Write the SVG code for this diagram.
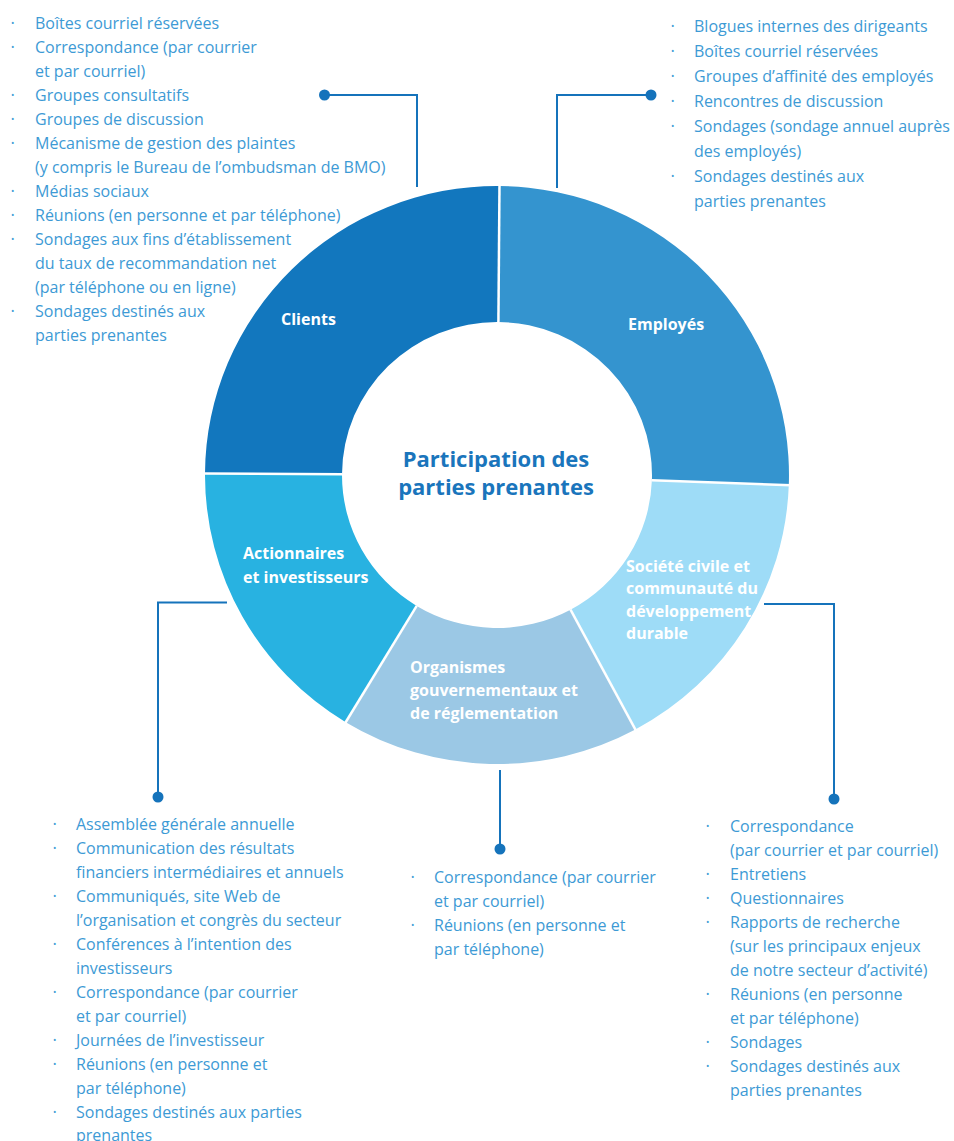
<svg xmlns="http://www.w3.org/2000/svg" width="954" height="1141" viewBox="0 0 954 1141">
  <style>
    .seg-label { font-family: "Open Sans", "Liberation Sans", sans-serif; font-weight: 700; font-size: 16px; fill: #ffffff; }
    .title { font-family: "Open Sans", "Liberation Sans", sans-serif; font-weight: 700; font-size: 22px; fill: #1a75bc; text-anchor: middle; }
    .item { font-family: "Open Sans", "Liberation Sans", sans-serif; font-size: 16px; fill: #3d9ad5; }
    .bullet { font-family: "Open Sans", "Liberation Sans", sans-serif; font-size: 9px; fill: #3d9ad5; }
    .sep { stroke: #ffffff; stroke-width: 2.5; }
    .link { fill: none; stroke: #1573bb; stroke-width: 2; }
    .dot { fill: #1573bb; }
  </style>
  <rect width="954" height="1141" fill="#ffffff"/>

  <!-- Ring segments: centre (497,475), outer radii 292/289, inner radii 155/153 -->
  <g id="clients">
    <path d="M205,473.5 A292,289 0 0 1 499.5,186 L498.4,322 A155,153 0 0 0 342,474.2 Z" fill="#1277be"/>
    <text class="seg-label" x="281" y="325">Clients</text>
    <g>
      <text class="bullet" x="11" y="26.3">•</text>
      <text class="bullet" x="11" y="50.3">•</text>
      <text class="bullet" x="11" y="98.2">•</text>
      <text class="bullet" x="11" y="122.2">•</text>
      <text class="bullet" x="11" y="146.1">•</text>
      <text class="bullet" x="11" y="194.1">•</text>
      <text class="bullet" x="11" y="218">•</text>
      <text class="bullet" x="11" y="242">•</text>
      <text class="bullet" x="11" y="313.9">•</text>
    </g>
    <text class="item" x="35" y="29.3">Boîtes courriel réservées</text>
    <text class="item" x="35" y="53.3">Correspondance (par courrier</text>
    <text class="item" x="35" y="77.3">et par courriel)</text>
    <text class="item" x="35" y="101.2">Groupes consultatifs</text>
    <text class="item" x="35" y="125.2">Groupes de discussion</text>
    <text class="item" x="35" y="149.1">Mécanisme de gestion des plaintes</text>
    <text class="item" x="35" y="173.1">(y compris le Bureau de l’ombudsman de BMO)</text>
    <text class="item" x="35" y="197.1">Médias sociaux</text>
    <text class="item" x="35" y="221">Réunions (en personne et par téléphone)</text>
    <text class="item" x="35" y="245">Sondages aux fins d’établissement</text>
    <text class="item" x="35" y="269">du taux de recommandation net</text>
    <text class="item" x="35" y="292.9">(par téléphone ou en ligne)</text>
    <text class="item" x="35" y="316.9">Sondages destinés aux</text>
    <text class="item" x="35" y="340.9">parties prenantes</text>
  </g>

  <g id="employes">
    <path d="M499.5,186 A292,289 0 0 1 788.8,485.1 L651.9,480.3 A155,153 0 0 0 498.4,322 Z" fill="#3494cf"/>
    <text class="seg-label" x="628" y="330">Employés</text>
    <g>
      <text class="bullet" x="671" y="29.3">•</text>
      <text class="bullet" x="671" y="54.3">•</text>
      <text class="bullet" x="671" y="79.3">•</text>
      <text class="bullet" x="671" y="104.3">•</text>
      <text class="bullet" x="671" y="129.3">•</text>
      <text class="bullet" x="671" y="179.3">•</text>
    </g>
    <text class="item" x="694" y="32.3">Blogues internes des dirigeants</text>
    <text class="item" x="694" y="57.3">Boîtes courriel réservées</text>
    <text class="item" x="694" y="82.3">Groupes d’affinité des employés</text>
    <text class="item" x="694" y="107.3">Rencontres de discussion</text>
    <text class="item" x="694" y="132.3">Sondages (sondage annuel auprès</text>
    <text class="item" x="694" y="157.3">des employés)</text>
    <text class="item" x="694" y="182.3">Sondages destinés aux</text>
    <text class="item" x="694" y="207.3">parties prenantes</text>
  </g>

  <g id="societe-civile">
    <path d="M788.8,485.1 A292,289 0 0 1 635.4,729.5 L570.5,609.7 A155,153 0 0 0 651.9,480.3 Z" fill="#9edcf7"/>
    <text class="seg-label" x="626" y="571.7">Société civile et</text>
    <text class="seg-label" x="626" y="594.2">communauté du</text>
    <text class="seg-label" x="626" y="616.7">développement</text>
    <text class="seg-label" x="626" y="639.2">durable</text>
    <g>
      <text class="bullet" x="706" y="829">•</text>
      <text class="bullet" x="706" y="877">•</text>
      <text class="bullet" x="706" y="901">•</text>
      <text class="bullet" x="706" y="925">•</text>
      <text class="bullet" x="706" y="997">•</text>
      <text class="bullet" x="706" y="1045">•</text>
      <text class="bullet" x="706" y="1069">•</text>
    </g>
    <text class="item" x="730" y="832">Correspondance</text>
    <text class="item" x="730" y="856">(par courrier et par courriel)</text>
    <text class="item" x="730" y="880">Entretiens</text>
    <text class="item" x="730" y="904">Questionnaires</text>
    <text class="item" x="730" y="928">Rapports de recherche</text>
    <text class="item" x="730" y="952">(sur les principaux enjeux</text>
    <text class="item" x="730" y="976">de notre secteur d’activité)</text>
    <text class="item" x="730" y="1000">Réunions (en personne</text>
    <text class="item" x="730" y="1024">et par téléphone)</text>
    <text class="item" x="730" y="1048">Sondages</text>
    <text class="item" x="730" y="1072">Sondages destinés aux</text>
    <text class="item" x="730" y="1096">parties prenantes</text>
  </g>

  <g id="organismes">
    <path d="M635.4,729.5 A292,289 0 0 1 345.7,722.2 L416.7,605.9 A155,153 0 0 0 570.5,609.7 Z" fill="#9bc8e5"/>
    <text class="seg-label" x="410" y="673.3">Organismes</text>
    <text class="seg-label" x="410" y="696.3">gouvernementaux et</text>
    <text class="seg-label" x="410" y="719.3">de réglementation</text>
    <g>
      <text class="bullet" x="411" y="880">•</text>
      <text class="bullet" x="411" y="928">•</text>
    </g>
    <text class="item" x="434" y="883">Correspondance (par courrier</text>
    <text class="item" x="434" y="907">et par courriel)</text>
    <text class="item" x="434" y="931">Réunions (en personne et</text>
    <text class="item" x="434" y="955">par téléphone)</text>
  </g>

  <g id="actionnaires">
    <path d="M345.7,722.2 A292,289 0 0 1 205,473.5 L342,474.2 A155,153 0 0 0 416.7,605.9 Z" fill="#28b2e1"/>
    <text class="seg-label" x="243" y="559.3">Actionnaires</text>
    <text class="seg-label" x="243" y="582.7">et investisseurs</text>
    <g>
      <text class="bullet" x="53" y="827">•</text>
      <text class="bullet" x="53" y="851">•</text>
      <text class="bullet" x="53" y="899">•</text>
      <text class="bullet" x="53" y="947">•</text>
      <text class="bullet" x="53" y="995">•</text>
      <text class="bullet" x="53" y="1043">•</text>
      <text class="bullet" x="53" y="1067">•</text>
      <text class="bullet" x="53" y="1115">•</text>
    </g>
    <text class="item" x="76" y="830">Assemblée générale annuelle</text>
    <text class="item" x="76" y="854">Communication des résultats</text>
    <text class="item" x="76" y="878">financiers intermédiaires et annuels</text>
    <text class="item" x="76" y="902">Communiqués, site Web de</text>
    <text class="item" x="76" y="926">l’organisation et congrès du secteur</text>
    <text class="item" x="76" y="950">Conférences à l’intention des</text>
    <text class="item" x="76" y="974">investisseurs</text>
    <text class="item" x="76" y="998">Correspondance (par courrier</text>
    <text class="item" x="76" y="1022">et par courriel)</text>
    <text class="item" x="76" y="1046">Journées de l’investisseur</text>
    <text class="item" x="76" y="1070">Réunions (en personne et</text>
    <text class="item" x="76" y="1094">par téléphone)</text>
    <text class="item" x="76" y="1118">Sondages destinés aux parties</text>
    <text class="item" x="76" y="1141">prenantes</text>
  </g>

  <!-- White gaps between ring segments -->
  <g id="separators">
    <line class="sep" x1="342" y1="474.2" x2="203" y2="473.5"/>
    <line class="sep" x1="498.4" y1="322" x2="499.5" y2="184"/>
    <line class="sep" x1="651.9" y1="480.3" x2="791" y2="485.2"/>
    <line class="sep" x1="570.5" y1="609.7" x2="636.4" y2="731.3"/>
    <line class="sep" x1="416.7" y1="605.9" x2="344.6" y2="724"/>
  </g>

  <g id="centre">
    <text class="title" x="496" y="467">Participation des</text>
    <text class="title" x="496" y="495">parties prenantes</text>
  </g>

  <g id="connectors">
    <polyline class="link" points="324.5,95 417,95 417,187"/>
    <circle class="dot" cx="324.5" cy="95" r="5.5"/>
    <polyline class="link" points="651,95 557,95 557,188"/>
    <circle class="dot" cx="651" cy="95" r="5.5"/>
    <polyline class="link" points="227,602.5 158,602.5 158,797"/>
    <circle class="dot" cx="158" cy="797" r="5.5"/>
    <polyline class="link" points="500,770 500,849"/>
    <circle class="dot" cx="500" cy="849" r="5.5"/>
    <polyline class="link" points="764,604 834,604 834,799"/>
    <circle class="dot" cx="834" cy="799" r="5.5"/>
  </g>
</svg>
